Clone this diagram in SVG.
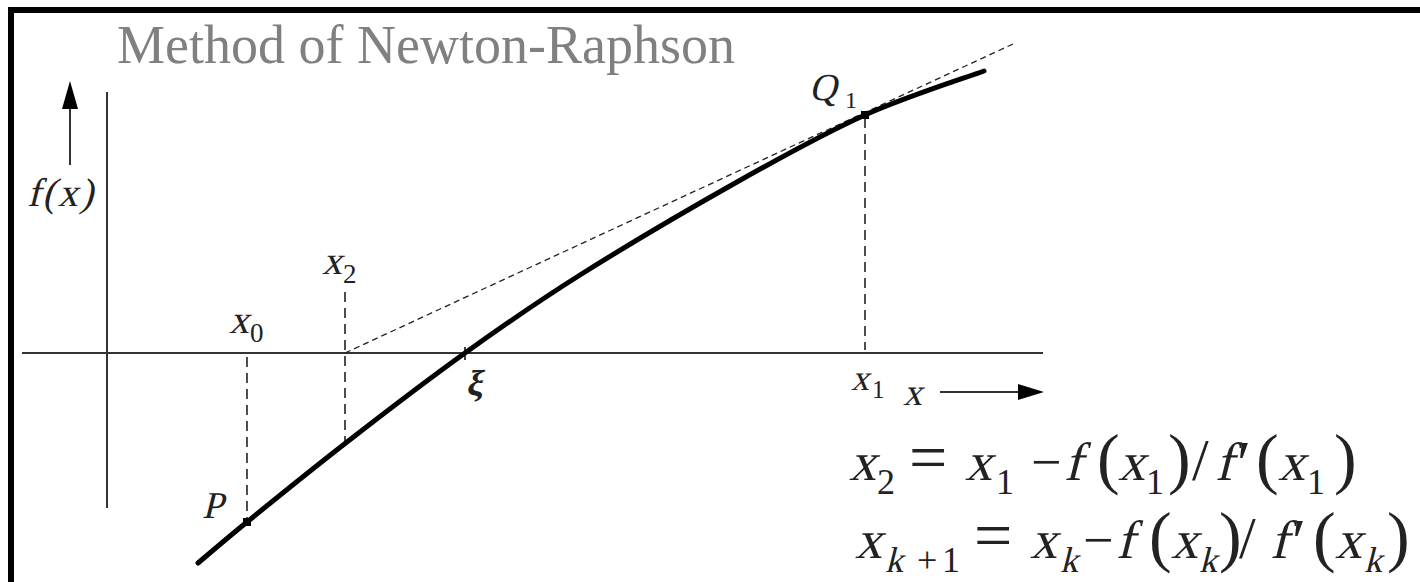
<svg xmlns="http://www.w3.org/2000/svg" width="1420" height="582" viewBox="0 0 1420 582">
<style>
text{font-family:"Liberation Serif","Times New Roman",serif;fill:#222}
.ax{stroke:#333;stroke-width:2;fill:none}
.dash{stroke:#222;stroke-width:1.6;stroke-dasharray:10 6;fill:none}
.tan{stroke:#222;stroke-width:1.3;stroke-dasharray:6 4;fill:none}
.v{font-size:54px}
.s{font-size:36px}
.p{font-size:68px}
.pr{font-size:64px}
</style>
<rect x="11" y="10" width="1440" height="620" fill="#fff" stroke="#000" stroke-width="6"/>
<text x="117" y="63" font-size="54" style="fill:#808080">Method of Newton-Raphson</text>
<g id="connectors">
<line class="ax" x1="22" y1="353" x2="1043" y2="353"/>
<line class="ax" x1="107" y1="92" x2="107" y2="508"/>
<line class="ax" x1="70" y1="165" x2="70" y2="104"/>
<polygon points="70,81 62,109 78,109" fill="#000"/>
<line class="ax" x1="940" y1="392" x2="1024" y2="392"/>
<polygon points="1044,392 1018,384 1018,400" fill="#000"/>
<line class="dash" x1="247" y1="357" x2="247" y2="522"/>
<line class="dash" x1="345" y1="292" x2="345" y2="442"/>
<line class="dash" x1="865" y1="118" x2="865" y2="350"/>
<line class="tan" x1="345" y1="353" x2="1013" y2="44"/>
<line stroke="#000" stroke-width="1.5" x1="465" y1="347" x2="465" y2="360"/>
<path id="curve" d="M198,563 C206.2,556.2 222.2,542.2 247,522 C271.8,501.8 310.7,470.2 347,442 C383.3,413.8 426.2,380.8 465,353 C503.8,325.2 534.7,303.5 580,275 C625.3,246.5 689.5,208.7 737,182 C784.5,155.3 823.8,133.5 865,115 C906.2,96.5 964.2,78.3 984,71" fill="none" stroke="#000" stroke-width="5" stroke-linecap="round"/>
</g>
<g id="P"><rect x="243" y="518" width="8" height="8" fill="#000"/><text transform="translate(202,518) skewX(-14)" font-size="38">P</text></g>
<g id="Q1"><rect x="861" y="111" width="8" height="8" fill="#000"/><text transform="translate(809,100) skewX(-14)" font-size="38">Q</text><text x="845" y="108" font-size="24">1</text></g>
<g id="fx"><text transform="translate(27,206) skewX(-14)" font-size="40" letter-spacing="2">f(x)</text></g>
<g id="x0"><text transform="translate(229,333) skewX(-14)" font-size="40">x</text><text x="250" y="342" font-size="27">0</text></g>
<g id="x2"><text transform="translate(322,274) skewX(-14)" font-size="40">x</text><text x="343" y="283" font-size="27">2</text></g>
<g id="x1"><text transform="translate(851,390) skewX(-14)" font-size="36">x</text><text x="872" y="398" font-size="25">1</text></g>
<g id="xlabel"><text transform="translate(903,405) skewX(-14)" font-size="38">x</text></g>
<g id="xi"><text transform="translate(466,395) skewX(-10)" font-size="36" font-weight="bold">ξ</text></g>
<g id="formula1">
<text transform="translate(849,480) skewX(-14)" class="v">x</text>
<text x="877" y="494" class="s">2</text>
<text x="909" y="480" class="p">=</text>
<text transform="translate(965,480) skewX(-14)" class="v">x</text>
<text x="996" y="494" class="s">1</text>
<text x="1031" y="480" font-size="54">−</text>
<text transform="translate(1064,480) skewX(-14)" class="v">f</text>
<text x="1097" y="481" class="p">(</text>
<text transform="translate(1118,480) skewX(-14)" class="v">x</text>
<text x="1146" y="494" class="s">1</text>
<text x="1168" y="481" class="p">)</text>
<text x="1192" y="480" font-size="60">/</text>
<text transform="translate(1215,480) skewX(-14)" class="v">f</text>
<text x="1237" y="485" class="pr">′</text>
<text x="1256" y="481" class="p">(</text>
<text transform="translate(1278,480) skewX(-14)" class="v">x</text>
<text x="1307" y="494" class="s">1</text>
<text x="1334" y="481" class="p">)</text>
</g>
<g id="formula2">
<text transform="translate(855,558) skewX(-14)" class="v">x</text>
<text transform="translate(885,572) skewX(-14)" class="s">k</text>
<text x="917" y="572" class="s">+</text>
<text x="942" y="572" class="s">1</text>
<text x="974" y="558" class="p">=</text>
<text transform="translate(1030,558) skewX(-14)" class="v">x</text>
<text transform="translate(1060,572) skewX(-14)" class="s">k</text>
<text x="1083" y="558" font-size="54">−</text>
<text transform="translate(1116,558) skewX(-14)" class="v">f</text>
<text x="1149" y="559" class="p">(</text>
<text transform="translate(1171,558) skewX(-14)" class="v">x</text>
<text transform="translate(1199,572) skewX(-14)" class="s">k</text>
<text x="1219" y="559" class="p">)</text>
<text x="1239" y="558" font-size="60">/</text>
<text transform="translate(1270,558) skewX(-14)" class="v">f</text>
<text x="1292" y="563" class="pr">′</text>
<text x="1313" y="559" class="p">(</text>
<text transform="translate(1335,558) skewX(-14)" class="v">x</text>
<text transform="translate(1364,572) skewX(-14)" class="s">k</text>
<text x="1387" y="559" class="p">)</text>
</g>
</svg>
